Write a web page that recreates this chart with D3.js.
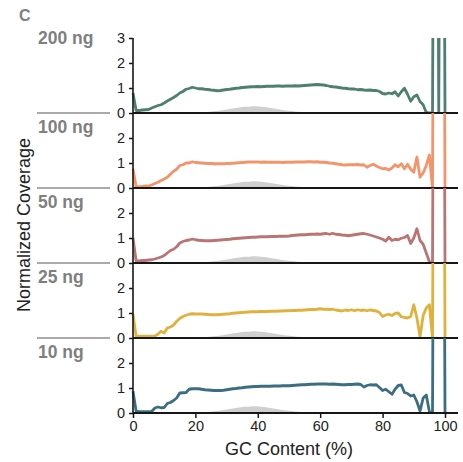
<!DOCTYPE html>
<html><head><meta charset="utf-8">
<script src="https://cdn.jsdelivr.net/npm/d3@7"></script>
<style>body{margin:0;background:#fff}svg{display:block;font-family:"Liberation Sans",Arial,Helvetica,sans-serif}</style>
</head><body><svg id="c" width="463" height="462"></svg>
<script>
// ---------------- data ----------------
const gc = d3.range(0, 101); // GC content bins (%)
const samples = ["200 ng", "100 ng", "50 ng", "25 ng", "10 ng"];
const sampleColors = ["#4f7f6e", "#f3946a", "#b87574", "#e0b23d", "#3b6e82"];

const cov200 = [0.8,0.1,0.1,0.12,0.13,0.14,0.2,0.25,0.3,0.33,
0.4,0.48,0.55,0.62,0.7,0.8,0.86,0.95,0.98,1.03,
1.0,0.97,0.97,0.95,0.94,0.92,0.91,0.89,0.9,0.92,
0.94,0.95,0.97,0.99,1.0,1.02,1.03,1.04,1.05,1.05,
1.06,1.05,1.06,1.07,1.07,1.07,1.08,1.08,1.07,1.08,
1.08,1.08,1.09,1.08,1.09,1.1,1.11,1.12,1.13,1.14,
1.13,1.12,1.1,1.07,1.05,1.04,1.02,1.0,0.99,0.97,
0.96,0.96,0.93,0.94,0.92,0.91,0.92,0.9,0.9,0.86,
0.78,0.76,0.8,0.77,0.85,0.68,0.85,0.99,0.75,0.47,
0.65,0.72,0.46,0.33,0.02,0,0,30,0,30,0];

const cov100 = [0.77,0.05,0.05,0.06,0.08,0.08,0.12,0.18,0.23,0.3,
0.36,0.43,0.55,0.67,0.75,0.9,0.93,1.0,1.0,1.05,
1.02,1.01,1.0,0.99,0.98,0.98,0.97,0.97,0.97,0.97,
0.98,0.98,0.99,1.0,1.01,1.02,1.03,1.04,1.04,1.04,
1.04,1.03,1.04,1.03,1.03,1.03,1.03,1.03,1.02,1.03,
1.03,1.03,1.04,1.04,1.04,1.04,1.05,1.05,1.04,1.05,
1.03,1.03,1.02,1.0,0.99,0.97,0.95,0.93,0.92,0.93,
0.93,0.93,0.94,0.92,0.93,0.83,0.9,0.95,0.88,0.82,
0.77,0.78,0.72,0.8,0.93,0.85,0.97,0.77,0.95,0.75,
0.63,1.24,0.43,0.6,0.9,1.32,0,30,30,30,0];

const cov50 = [1.0,0.08,0.08,0.1,0.1,0.12,0.13,0.16,0.2,0.24,
0.3,0.4,0.5,0.55,0.65,0.8,0.86,0.9,0.92,0.96,
0.93,0.91,0.9,0.89,0.89,0.89,0.9,0.91,0.92,0.93,
0.94,0.95,0.97,0.98,0.99,1.0,1.01,1.02,1.03,1.03,
1.04,1.05,1.05,1.05,1.06,1.06,1.06,1.07,1.07,1.07,
1.08,1.1,1.11,1.12,1.13,1.13,1.14,1.15,1.15,1.16,
1.15,1.17,1.18,1.15,1.19,1.15,1.14,1.12,1.11,1.09,
1.11,1.13,1.15,1.17,1.18,1.15,1.12,1.08,1.04,1.0,
0.95,0.88,1.03,0.9,0.95,0.93,0.99,1.02,1.1,0.78,
1.0,1.37,0.9,0.75,0.4,0.05,0,30,30,30,0];

const cov25 = [0.95,0.07,0.07,0.07,0.07,0.07,0.07,0.08,0.15,0.27,
0.2,0.4,0.44,0.52,0.67,0.78,0.86,0.91,0.95,0.97,
0.96,0.96,0.96,0.95,0.94,0.93,0.93,0.93,0.94,0.95,
0.96,0.97,0.99,1.0,1.01,1.02,1.03,1.04,1.05,1.05,
1.05,1.06,1.06,1.06,1.07,1.07,1.07,1.08,1.08,1.09,
1.09,1.1,1.1,1.11,1.11,1.12,1.13,1.14,1.14,1.15,
1.17,1.15,1.15,1.14,1.15,1.12,1.1,1.08,1.12,1.1,
1.13,1.09,1.13,1.1,1.12,1.09,1.12,1.1,1.08,1.02,
0.86,0.92,0.95,0.9,0.98,1.0,0.85,0.82,0.8,0.86,
1.33,0.8,0.05,0.9,1.2,1.33,0,30,30,30,0];

const cov10 = [0.87,0.07,0.05,0.05,0.05,0.05,0.06,0.2,0.24,0.21,
0.22,0.38,0.42,0.5,0.6,0.8,0.81,0.82,0.95,0.97,
0.97,0.97,0.95,0.93,0.92,0.91,0.9,0.9,0.9,0.91,
0.93,0.95,0.97,0.98,1.0,1.01,1.03,1.04,1.05,1.06,
1.06,1.07,1.07,1.07,1.07,1.08,1.08,1.08,1.09,1.09,
1.09,1.1,1.11,1.12,1.13,1.13,1.14,1.15,1.15,1.16,
1.16,1.16,1.16,1.15,1.16,1.15,1.14,1.13,1.13,1.14,
1.14,1.15,1.16,1.14,1.04,1.1,1.13,1.12,1.13,1.02,
0.9,0.95,0.85,0.75,0.95,1.1,1.12,0.82,0.78,0.68,
0.72,0.45,0.08,0.6,0.72,0.05,0,30,30,30,0];

const coverage = [cov200, cov100, cov50, cov25, cov10];

// genome GC distribution (grey background)
const distGC  = [18,20,22,24,26,28,30,32,34,36,38,40,42,44,46,48,50,52,54,56,58,60,62];
const distVal = [0,0.01,0.02,0.04,0.07,0.1,0.14,0.18,0.22,0.25,0.27,0.26,0.24,0.2,0.16,0.12,0.09,0.06,0.04,0.03,0.02,0.01,0];

const xTicks = [0, 20, 40, 60, 80, 100];
const yTicksTop = [0, 1, 2, 3];
const yTicksOther = [0, 1, 2];

// ---------------- drawing ----------------
const svg = d3.select("#c");
const x = d3.scaleLinear().domain([0, 100]).range([133, 445]);
const panelTop0 = 38, panelH = 75;
const textCol = "#222";
const labelCol = "#7f7f7f";

svg.append("text").attr("x", 19).attr("y", 21).text("C")
  .attr("font-size", 16).attr("font-weight", "bold").attr("fill", labelCol);

const defs = svg.append("defs");

samples.forEach((name, i) => {
  const top = panelTop0 + i * panelH;
  const zero = top + panelH;
  const y = d3.scaleLinear().domain([0, 3]).range([zero, top]);
  const g = svg.append("g");

  defs.append("clipPath").attr("id", "clip" + i)
    .append("rect").attr("x", 125).attr("y", top).attr("width", 335).attr("height", panelH);

  const body = g.append("g").attr("clip-path", `url(#clip${i})`);

  // grey GC distribution
  const area = d3.area().x((d, k) => x(distGC[k])).y0(zero).y1((d) => y(d)).curve(d3.curveBasis);
  body.append("path").datum(distVal).attr("d", area).attr("fill", "#cfcfcf");

  // coverage line
  const line = d3.line().x((d, k) => x(gc[k])).y(d => y(d));
  body.append("path").datum(coverage[i]).attr("d", line)
    .attr("fill", "none").attr("stroke", sampleColors[i])
    .attr("stroke-width", 2.8).attr("stroke-linejoin", "round");

  // baseline at 0
  g.append("line").attr("x1", 133).attr("x2", 458).attr("y1", zero).attr("y2", zero)
    .attr("stroke", "#161616").attr("stroke-width", 2.2);

  // y axis ticks
  const yAxis = d3.axisLeft(y).tickValues(i === 0 ? yTicksTop : yTicksOther)
    .tickSize(4).tickPadding(4).tickFormat(d3.format("d"));
  const ya = svg.append("g").attr("transform", "translate(133,0)").call(yAxis);
  ya.select(".domain").remove();
  ya.selectAll(".tick line").attr("stroke", "#161616").attr("stroke-width", 1.5);
  ya.selectAll(".tick text").attr("font-size", 14.5).attr("fill", textCol)
    .attr("font-family", '"Liberation Sans",Arial,sans-serif');

  // sample label + separator
  if (i < samples.length - 1) {
    svg.append("line").attr("x1", 37).attr("x2", 110).attr("y1", zero).attr("y2", zero)
      .attr("stroke", "#aaaaaa").attr("stroke-width", 2);
  }
  svg.append("text").attr("x", 38).attr("y", i === 0 ? 44 : top + 19.5).text(name)
    .attr("font-size", 17.5).attr("font-weight", "bold").attr("fill", labelCol);
});

// vertical axis line
svg.append("line").attr("x1", 133).attr("x2", 133).attr("y1", panelTop0)
  .attr("y2", panelTop0 + panelH * samples.length)
  .attr("stroke", "#161616").attr("stroke-width", 1.6);

// x axis
const bottom = panelTop0 + panelH * samples.length;
const xa = svg.append("g").attr("transform", `translate(0,${bottom})`)
  .call(d3.axisBottom(x).tickValues(xTicks).tickSize(5).tickPadding(3));
xa.select(".domain").remove();
xa.selectAll(".tick line").attr("stroke", "#161616").attr("stroke-width", 1.5);
xa.selectAll(".tick text").attr("font-size", 14.5).attr("fill", textCol)
  .attr("font-family", '"Liberation Sans",Arial,sans-serif');

svg.append("text").attr("x", 289).attr("y", 455).attr("text-anchor", "middle")
  .attr("font-size", 18).attr("fill", textCol).text("GC Content (%)");

svg.append("text").attr("transform", "translate(30,225) rotate(-90)")
  .attr("text-anchor", "middle").attr("font-size", 18).attr("fill", textCol)
  .text("Normalized Coverage");
</script></body></html>
